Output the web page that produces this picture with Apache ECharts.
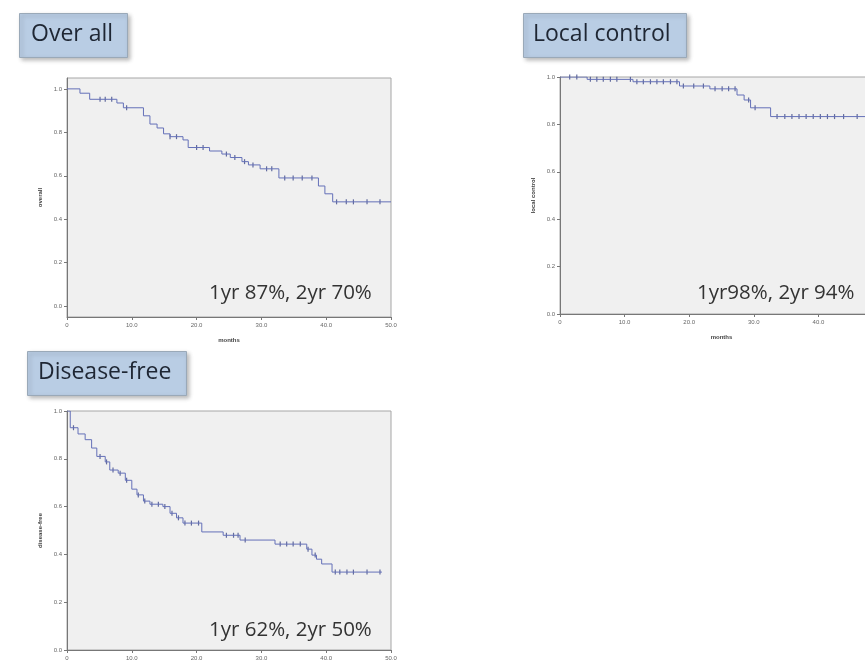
<!DOCTYPE html>
<html>
<head>
<meta charset="utf-8">
<script src="https://cdn.jsdelivr.net/npm/echarts@6/dist/echarts.min.js"></script>
<style>html,body{margin:0;padding:0;background:#fff}#c{width:865px;height:671px}</style>
</head>
<body>
<div id="c"></div>
<script>
// ---- data (months, survival) ----
var osTimes = [0, 2, 3.5, 7.7, 8.7, 11.8, 12.8, 13.9, 14.9, 15.9, 17.9, 18.7, 22, 23.9, 25.2, 27, 28, 29.8, 32.7, 38.8, 39.8, 41, 50];
var osSurv  = [1.0, 0.98, 0.952, 0.935, 0.913, 0.876, 0.838, 0.82, 0.793, 0.78, 0.765, 0.73, 0.714, 0.70, 0.684, 0.665, 0.65, 0.632, 0.59, 0.553, 0.517, 0.48, 0.48];
var osCensor = [5.1, 5.9, 6.9, 9.2, 15.9, 16.9, 20, 21, 24.6, 25.9, 27.4, 28.7, 30.8, 31.6, 33.6, 34.9, 36.3, 37.8, 41.6, 43.1, 44.2, 46.3, 48.3];

var lcTimes = [0, 4.2, 11.3, 18.5, 23.2, 27.4, 28.5, 29.5, 32.6, 50];
var lcSurv  = [1.0, 0.99, 0.98, 0.962, 0.95, 0.924, 0.903, 0.87, 0.833, 0.833];
var lcCensor = [1.5, 2.6, 4.7, 5.7, 6.7, 7.8, 8.8, 10.9, 11.9, 12.9, 14, 15, 16, 17.1, 18.1, 19.1, 20.7, 22.2, 24, 25.1, 26.1, 27.1, 29.2, 30.2, 33.6, 34.8, 35.9, 37, 38.1, 39.2, 40.3, 41.4, 42.5, 43.9, 46];

var dfTimes = [0, 0.5, 1.7, 2.8, 3.8, 4.6, 5.9, 6.6, 7.9, 9, 10, 10.8, 11.8, 12.8, 14.8, 15.9, 16.9, 17.9, 20.8, 24.1, 26.7, 32.1, 37, 37.8, 38.5, 39.3, 40.9, 48.6];
var dfSurv  = [1.0, 0.93, 0.904, 0.88, 0.845, 0.81, 0.787, 0.753, 0.74, 0.71, 0.673, 0.649, 0.623, 0.61, 0.60, 0.572, 0.553, 0.531, 0.494, 0.48, 0.46, 0.443, 0.422, 0.397, 0.38, 0.36, 0.326, 0.326];
var dfCensor = [1, 5.1, 6.1, 7.1, 8.2, 9.2, 11, 12, 13.1, 14.1, 15.1, 16.2, 17.2, 18.2, 19.2, 20.3, 24.6, 25.7, 26.4, 27.5, 32.9, 33.9, 34.9, 36, 37.2, 38.3, 41.4, 42.1, 43.2, 44.2, 46.3, 48.3];

var panelTitles = ['Over all', 'Local control', 'Disease-free'];
var yNames = ['overall', 'local control', 'disease-free'];
var notes = ['1yr 87%, 2yr 70%', '1yr98%, 2yr 94%', '1yr 62%, 2yr 50%'];
var xTickLabels = ['0', '10.0', '20.0', '30.0', '40.0', '50.0'];
var yTickValues = [0, 0.2, 0.4, 0.6, 0.8, 1.0];
var yTickLabels = ['0.0', '0.2', '0.4', '0.6', '0.8', '1.0'];

function pairs(t, s) { return t.map(function (v, i) { return [v, s[i]]; }); }
function stepAt(t, s, x) { var v = s[0]; for (var i = 0; i < t.length; i++) { if (t[i] <= x) v = s[i]; } return v; }
function censorPts(c, t, s) { return c.map(function (x) { return [x, stepAt(t, s, x)]; }); }

var grids = [
  { left: 67, top: 78, width: 324, height: 239 },
  { left: 560, top: 77, width: 323, height: 237 },
  { left: 67, top: 411, width: 324, height: 239 }
];
var yRanges = [[-0.05, 1.05], [0, 1], [0, 1]];

var lineColor = '#6470b8';
var chart = echarts.init(document.getElementById('c'));
var option = {
  backgroundColor: '#ffffff',
  animation: false,
  grid: grids.map(function (g) {
    return Object.assign({ show: true, backgroundColor: '#f0f0f0', borderColor: '#a6a6a6', borderWidth: 1, containLabel: false, outerBoundsMode: 'none' }, g);
  }),
  xAxis: grids.map(function (g, i) {
    return {
      type: 'value', gridIndex: i, min: 0, max: 50, interval: 10,
      name: 'months', nameLocation: 'middle', nameGap: 20,
      nameTextStyle: { fontSize: 6, color: '#444', fontWeight: 'bold' },
      axisLine: { show: true, onZero: false, lineStyle: { color: '#777', width: 1 } },
      axisTick: { show: true, length: 3, lineStyle: { color: '#777' } },
      axisLabel: { fontSize: 6, color: '#666', margin: 5, formatter: function (v) { return xTickLabels[Math.round(v / 10)]; } },
      splitLine: { show: false }
    };
  }),
  yAxis: grids.map(function (g, i) {
    return {
      type: 'value', gridIndex: i, min: yRanges[i][0], max: yRanges[i][1],
      name: yNames[i], nameLocation: 'middle', nameGap: 24, nameRotate: 90,
      nameTextStyle: { fontSize: 6, color: '#444', fontWeight: 'bold' },
      axisLine: { show: true, onZero: false, lineStyle: { color: '#777', width: 1 } },
      axisTick: { show: true, length: 3, customValues: yTickValues, lineStyle: { color: '#777' } },
      axisLabel: { fontSize: 6, color: '#666', margin: 5, customValues: yTickValues,
        formatter: function (v) { return yTickLabels[Math.round(v * 5)]; } },
      splitLine: { show: false }
    };
  }),
  series: [
    { type: 'line', xAxisIndex: 0, yAxisIndex: 0, step: 'end', showSymbol: false, data: pairs(osTimes, osSurv), lineStyle: { color: lineColor, width: 1 } },
    { type: 'scatter', xAxisIndex: 0, yAxisIndex: 0, symbol: 'rect', symbolSize: [1.2, 5], data: censorPts(osCensor, osTimes, osSurv), itemStyle: { color: '#3f4a8a' } },
    { type: 'line', xAxisIndex: 1, yAxisIndex: 1, step: 'end', showSymbol: false, data: pairs(lcTimes, lcSurv), lineStyle: { color: lineColor, width: 1 } },
    { type: 'scatter', xAxisIndex: 1, yAxisIndex: 1, symbol: 'rect', symbolSize: [1.2, 5], data: censorPts(lcCensor, lcTimes, lcSurv), itemStyle: { color: '#3f4a8a' } },
    { type: 'line', xAxisIndex: 2, yAxisIndex: 2, step: 'end', showSymbol: false, data: pairs(dfTimes, dfSurv), lineStyle: { color: lineColor, width: 1 } },
    { type: 'scatter', xAxisIndex: 2, yAxisIndex: 2, symbol: 'rect', symbolSize: [1.2, 5], data: censorPts(dfCensor, dfTimes, dfSurv), itemStyle: { color: '#3f4a8a' } }
  ],
  graphic: [
    { type: 'rect', left: 19, top: 13, shape: { width: 108, height: 44 }, style: { fill: '#b9cde4', stroke: '#9aa9b8', lineWidth: 1, shadowBlur: 4, shadowOffsetX: 2, shadowOffsetY: 2, shadowColor: 'rgba(0,0,0,0.25)' } },
    { type: 'text', left: 31, top: 23, style: { text: panelTitles[0], font: '23px "Open Sans"', fill: '#1e2633' } },
    { type: 'rect', left: 523, top: 13, shape: { width: 163, height: 44 }, style: { fill: '#b9cde4', stroke: '#9aa9b8', lineWidth: 1, shadowBlur: 4, shadowOffsetX: 2, shadowOffsetY: 2, shadowColor: 'rgba(0,0,0,0.25)' } },
    { type: 'text', left: 533, top: 23, style: { text: panelTitles[1], font: '23px "Open Sans"', fill: '#1e2633' } },
    { type: 'rect', left: 27, top: 351, shape: { width: 159, height: 44 }, style: { fill: '#b9cde4', stroke: '#9aa9b8', lineWidth: 1, shadowBlur: 4, shadowOffsetX: 2, shadowOffsetY: 2, shadowColor: 'rgba(0,0,0,0.25)' } },
    { type: 'text', left: 38, top: 361, style: { text: panelTitles[2], font: '23px "Open Sans"', fill: '#1e2633' } },
    { type: 'text', left: 209, top: 283, style: { text: notes[0], font: '20.5px "Open Sans"', fill: '#333333' } },
    { type: 'text', left: 697, top: 283, style: { text: notes[1], font: '20.5px "Open Sans"', fill: '#333333' } },
    { type: 'text', left: 209, top: 620, style: { text: notes[2], font: '20.5px "Open Sans"', fill: '#333333' } }
  ]
};
chart.setOption(option);
</script>
</body>
</html>
